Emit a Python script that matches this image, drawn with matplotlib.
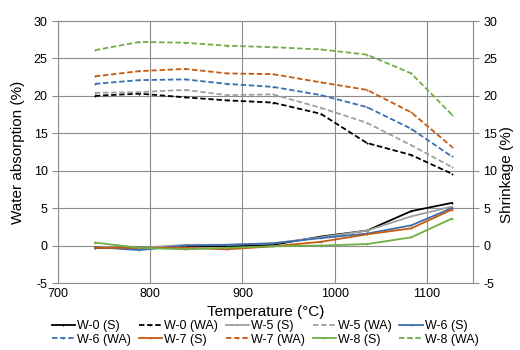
import matplotlib.pyplot as plt
import numpy as np

plt.rcParams['font.family'] = ['Liberation Sans', 'DejaVu Sans']
plt.rcParams['axes.unicode_minus'] = False

# Firing temperatures (°C)
temps = [740, 788, 838, 883, 933, 985, 1035, 1083, 1127]

# Shrinkage (S) and water absorption (WA), %
w0_s = [-0.3, -0.3, -0.1, -0.1, 0.1, 1.2, 2.0, 4.6, 5.7]
w0_wa = [20.0, 20.3, 19.8, 19.4, 19.1, 17.6, 13.7, 12.1, 9.6]
w5_s = [-0.2, -0.3, 0.1, 0.1, 0.3, 1.1, 2.0, 3.9, 5.2]
w5_wa = [20.4, 20.5, 20.8, 20.1, 20.2, 18.4, 16.4, 13.4, 10.5]
w6_s = [-0.2, -0.6, 0.0, 0.1, 0.3, 1.0, 1.6, 2.7, 5.0]
w6_wa = [21.6, 22.1, 22.2, 21.6, 21.2, 20.1, 18.5, 15.6, 11.9]
w7_s = [-0.3, -0.3, -0.3, -0.5, -0.1, 0.5, 1.5, 2.3, 4.8]
w7_wa = [22.6, 23.3, 23.6, 23.0, 22.9, 21.8, 20.8, 17.8, 13.2]
w8_s = [0.4, -0.3, -0.5, -0.3, -0.1, 0.0, 0.2, 1.1, 3.6]
w8_wa = [26.1, 27.2, 27.1, 26.7, 26.5, 26.2, 25.5, 23.0, 17.5]

names = ['W-0', 'W-5', 'W-6', 'W-7', 'W-8']
s_data = [w0_s, w5_s, w6_s, w7_s, w8_s]
wa_data = [w0_wa, w5_wa, w6_wa, w7_wa, w8_wa]
colors = ['#000000', '#a0a0a0', '#3a6fb0', '#c55a11', '#70ad47']

fig = plt.figure(figsize=(5.2, 3.5), dpi=100)
ax = fig.add_axes([58 / 520, 1 - 283 / 350, (473 - 58) / 520, (283 - 21) / 350])

lines = []
for name, s, wa, c in zip(names, s_data, wa_data, colors):
    l1, = ax.plot(temps, s, color=c, lw=1.3, marker='+', ms=2, mew=0.7,
                  label=name + ' (S)')
    l2, = ax.plot(temps, wa, color=c, lw=1.3, ls=(0, (3, 1.5)), marker='+',
                  ms=2, mew=0.7, label=name + ' (WA)')
    lines += [l1, l2]

ax.set_xlim(700, 1150)
ax.set_ylim(-5, 30)
ax.set_xticks([700, 800, 900, 1000, 1100])
ax.set_yticks(np.arange(-5, 31, 5))
ax.grid(True, color='#8c8c8c', lw=0.8)
for sp in ax.spines.values():
    sp.set_color('#8c8c8c')
ax.tick_params(axis='both', labelsize=9, color='#8c8c8c', length=4)
ax.tick_params(axis='y', right=True, labelright=True)
ax.tick_params(axis='x', length=0)

ax.set_xlabel('Temperature (°C)', fontsize=11, labelpad=4)
ax.set_ylabel('Water absorption (%)', fontsize=11, labelpad=6)
fig.text(0.975, 0.5, 'Shrinkage (%)', rotation=90, fontsize=11,
         va='center', ha='center')

# legend fills row by row: reorder for matplotlib's column-wise fill
order = [0, 5, 1, 6, 2, 7, 3, 8, 4, 9]
fig.legend(handles=[lines[i] for i in order], loc='lower center', ncol=5,
           fontsize=9, frameon=False, handlelength=1.9, handletextpad=0.15,
           columnspacing=0.6, labelspacing=0.1,
           bbox_to_anchor=(0.51, -0.02))

fig.savefig('out.png', dpi=100)
